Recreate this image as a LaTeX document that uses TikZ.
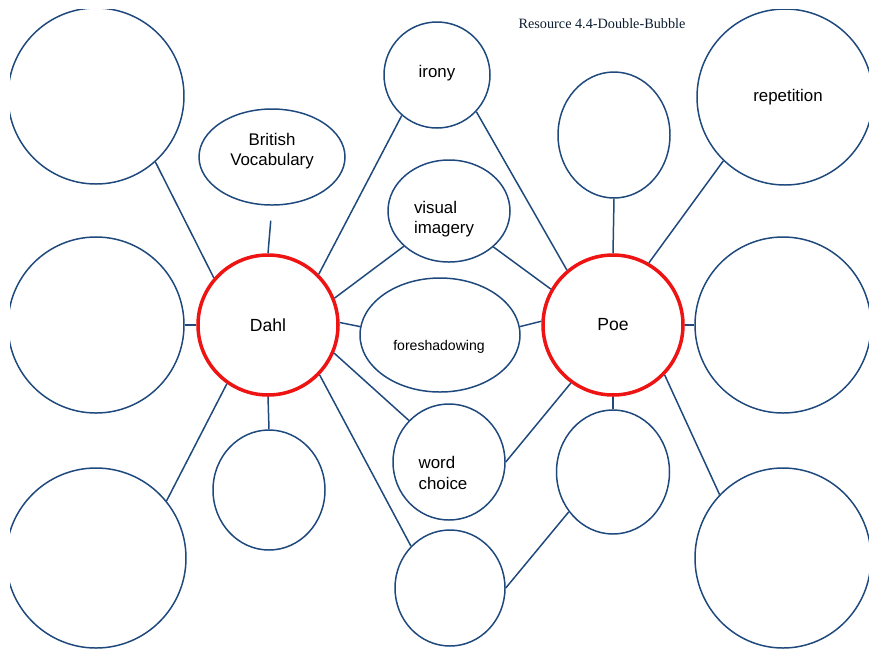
\documentclass[tikz,border=0pt]{standalone}
\usepackage{fontspec}
\setmainfont{Liberation Sans}
\newfontfamily\titlefont{Liberation Serif}
\definecolor{bubnavy}{RGB}{31, 73, 125}
\definecolor{mainred}{RGB}{238, 20, 20}
\usetikzlibrary{shapes.geometric}

\begin{document}
\begin{tikzpicture}[x=0.02cm, y=-0.02cm,
    bubble/.style 2 args={ellipse, draw=bubnavy, line width=0.85pt, inner sep=0pt,
      minimum width=#1*0.02cm, minimum height=#2*0.02cm},
    mainbub/.style={ellipse, draw=mainred, line width=2pt, inner sep=0pt,
      minimum size=140*0.02cm, font=\fontsize{10}{12}\selectfont},
    txt/.style={inner sep=0pt, align=left, font=\fontsize{9.6}{11.5}\selectfont},
    link/.style={draw=bubnavy, line width=0.85pt}]
  \useasboundingbox (0,0) rectangle (869,657);
  \clip (10,9) rectangle (869,657);

  % Dahl side
  \node[bubble={176}{176}] (tlc) at (96,96) {};
  \node[bubble={176}{176}] (mlc) at (96,325) {};
  \node[bubble={180}{180}] (blc) at (96,558) {};
  \node[bubble={146}{96}] (brit) at (272,157) {};
  \node[bubble={112}{120}] (dahlb) at (269,490) {};
  \node[mainbub] (dahl) at (268,325) {Dahl};

  % shared bubbles
  \node[bubble={106}{106}] (irony) at (437,75) {};
  \node[bubble={122}{102}] (visual) at (449,211) {};
  \node[bubble={160}{114}] (fore) at (440,335) {};
  \node[bubble={112}{116}] (word) at (449,462) {};
  \node[bubble={110}{116}] (botc) at (450,588) {};

  % Poe side
  \node[mainbub] (poe) at (613,325) {Poe};
  \node[bubble={112}{126}] (poet) at (614,135) {};
  \node[bubble={113}{124}] (poeb) at (613,472) {};
  \node[bubble={176}{176}] (rep) at (785,97) {};
  \node[bubble={176}{176}] (mrc) at (783,325) {};
  \node[bubble={176}{180}] (brc) at (783,558) {};

  % texts
  \node[txt, align=center] (britlbl) at (272,151) {British\\Vocabulary};
  \node[txt] (ironylbl) at (437,73) {irony};
  \node[txt] (visuallbl) at (444,219) {visual\\imagery};
  \node[txt, font=\fontsize{8}{10}\selectfont] (forelbl) at (439,347) {foreshadowing};
  \node[txt] (wordlbl) at (443,473) {word\\choice};
  \node[txt] (replbl) at (788,97) {repetition};
  \node[inner sep=0pt, text=bubnavy!40!black, font=\titlefont\fontsize{8.1}{10}\selectfont] (title) at (602,24) {Resource 4.4-Double-Bubble};

  % links
  \draw[link] (tlc.-48) -- (dahl.139);
  \draw[link, shorten <=3mm] (brit.south) -- (dahl.north);
  \draw[link] (mlc.east) -- (dahl.west);
  \draw[link] (blc.39) -- (dahl.-125);
  \draw[link] (dahl.south) -- (dahlb.north);
  \draw[link] (dahl.45) -- (irony.-131);
  \draw[link] (dahl.22) -- (visual.-142);
  \draw[link] (dahl.2) -- (fore.174);
  \draw[link] (dahl.-23) -- (word.134);
  \draw[link] (dahl.-44) -- (botc.133);
  \draw[link] (irony.-43) -- (poe.130);
  \draw[link] (visual.-39) -- (poe.150);
  \draw[link] (fore.6) -- (poe.177);
  \draw[link] (word.east) -- (poe.-126);
  \draw[link] (botc.east) -- (poeb.-138);
  \draw[link] (poe.north) -- (poet.south);
  \draw[link] (poe.60) -- (rep.-134);
  \draw[link] (poe.east) -- (mrc.west);
  \draw[link] (poe.-44) -- (brc.135);
  \draw[link] (poe.south) -- (poeb.north);
\end{tikzpicture}
\end{document}
